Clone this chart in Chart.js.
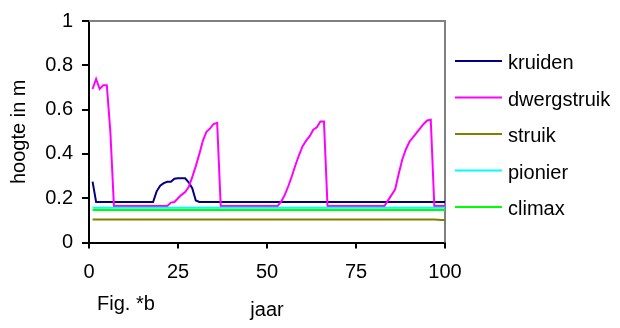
<!DOCTYPE html>
<html>
<head>
<meta charset="utf-8">
<script src="https://cdn.jsdelivr.net/npm/chart.js@4.4.0/dist/chart.umd.min.js"></script>
<style>
  html, body { margin: 0; padding: 0; background: #ffffff; }
  #wrap { width: 620px; height: 328px; position: relative; }
</style>
</head>
<body>
<div id="wrap"><canvas id="c" width="620" height="328"></canvas></div>
<script>
// ---- data ----
const years = [
  1,2,3,4,5,6,7,8,9,10,11,12,13,14,15,16,17,18,19,20,
  21,22,23,24,25,26,27,28,29,30,31,32,33,34,35,36,37,38,39,40,
  41,42,43,44,45,46,47,48,49,50,51,52,53,54,55,56,57,58,59,60,
  61,62,63,64,65,66,67,68,69,70,71,72,73,74,75,76,77,78,79,80,
  81,82,83,84,85,86,87,88,89,90,91,92,93,94,95,96,97,98,99,100
];
const seriesNames = ["kruiden", "dwergstruik", "struik", "pionier", "climax"];
const kruiden = [
  0.275,0.183,0.183,0.183,0.183,0.183,0.183,0.183,0.183,0.183,
  0.183,0.183,0.183,0.183,0.183,0.183,0.183,0.183,0.231,0.256,
  0.268,0.274,0.274,0.288,0.290,0.290,0.290,0.272,0.245,0.190,
  0.183,0.183,0.183,0.183,0.183,0.183,0.183,0.183,0.183,0.183,
  0.183,0.183,0.183,0.183,0.183,0.183,0.183,0.183,0.183,0.183,
  0.183,0.183,0.183,0.183,0.183,0.183,0.183,0.183,0.183,0.183,
  0.183,0.183,0.183,0.183,0.183,0.183,0.183,0.183,0.183,0.183,
  0.183,0.183,0.183,0.183,0.183,0.183,0.183,0.183,0.183,0.183,
  0.183,0.183,0.183,0.183,0.183,0.183,0.183,0.183,0.183,0.183,
  0.183,0.183,0.183,0.183,0.183,0.183,0.183,0.183,0.183,0.183
];
const dwergstruik = [
  0.693,0.738,0.693,0.710,0.710,0.500,0.165,0.165,0.165,0.165,
  0.165,0.165,0.165,0.165,0.165,0.165,0.165,0.165,0.165,0.165,
  0.165,0.165,0.180,0.183,0.200,0.215,0.228,0.250,0.295,0.345,
  0.400,0.460,0.500,0.515,0.535,0.540,0.165,0.165,0.165,0.165,
  0.165,0.165,0.165,0.165,0.165,0.165,0.165,0.165,0.165,0.165,
  0.165,0.165,0.165,0.185,0.215,0.255,0.300,0.350,0.395,0.435,
  0.460,0.480,0.509,0.520,0.546,0.546,0.165,0.165,0.165,0.165,
  0.165,0.165,0.165,0.165,0.165,0.165,0.165,0.165,0.165,0.165,
  0.165,0.165,0.165,0.190,0.215,0.240,0.310,0.375,0.420,0.455,
  0.475,0.495,0.515,0.535,0.551,0.554,0.165,0.165,0.165,0.165
];
const struik = [
  0.104,0.104,0.104,0.104,0.104,0.104,0.104,0.104,0.104,0.104,
  0.104,0.104,0.104,0.104,0.104,0.104,0.104,0.104,0.104,0.104,
  0.104,0.104,0.104,0.104,0.104,0.104,0.104,0.104,0.104,0.104,
  0.104,0.104,0.104,0.104,0.104,0.104,0.104,0.104,0.104,0.104,
  0.104,0.104,0.104,0.104,0.104,0.104,0.104,0.104,0.104,0.104,
  0.104,0.104,0.104,0.104,0.104,0.104,0.104,0.104,0.104,0.104,
  0.104,0.104,0.104,0.104,0.104,0.104,0.104,0.104,0.104,0.104,
  0.104,0.104,0.104,0.104,0.104,0.104,0.104,0.104,0.104,0.104,
  0.104,0.104,0.104,0.104,0.104,0.104,0.104,0.104,0.104,0.104,
  0.104,0.104,0.104,0.104,0.104,0.104,0.104,0.103,0.102,0.102
];
const pionier = [
  0.157,0.157,0.157,0.157,0.157,0.157,0.157,0.157,0.157,0.157,
  0.157,0.157,0.157,0.157,0.157,0.157,0.157,0.157,0.157,0.157,
  0.157,0.157,0.157,0.157,0.157,0.157,0.157,0.157,0.157,0.157,
  0.157,0.157,0.157,0.157,0.157,0.157,0.157,0.157,0.157,0.157,
  0.157,0.157,0.157,0.157,0.157,0.157,0.157,0.157,0.157,0.157,
  0.157,0.157,0.157,0.157,0.157,0.157,0.157,0.157,0.157,0.157,
  0.157,0.157,0.157,0.157,0.157,0.157,0.157,0.157,0.157,0.157,
  0.157,0.157,0.157,0.157,0.157,0.157,0.157,0.157,0.157,0.157,
  0.157,0.157,0.157,0.157,0.157,0.157,0.157,0.157,0.157,0.157,
  0.157,0.157,0.157,0.157,0.157,0.157,0.157,0.157,0.157,0.157
];
const climax = [
  0.147,0.147,0.147,0.147,0.147,0.147,0.147,0.147,0.147,0.147,
  0.147,0.147,0.147,0.147,0.147,0.147,0.147,0.147,0.147,0.147,
  0.147,0.147,0.147,0.147,0.147,0.147,0.147,0.147,0.147,0.147,
  0.147,0.147,0.147,0.147,0.147,0.147,0.147,0.147,0.147,0.147,
  0.147,0.147,0.147,0.147,0.147,0.147,0.147,0.147,0.147,0.147,
  0.147,0.147,0.147,0.147,0.147,0.147,0.147,0.147,0.147,0.147,
  0.147,0.147,0.147,0.147,0.147,0.147,0.147,0.147,0.147,0.147,
  0.147,0.147,0.147,0.147,0.147,0.147,0.147,0.147,0.147,0.147,
  0.147,0.147,0.147,0.147,0.147,0.147,0.147,0.147,0.147,0.147,
  0.147,0.147,0.147,0.147,0.147,0.147,0.147,0.147,0.147,0.147
];
const xTickValues = [0, 25, 50, 75, 100];
const xTickLabels = ["0", "25", "50", "75", "100"];
const yTickValues = [0, 0.2, 0.4, 0.6, 0.8, 1];
const yTickLabels = ["0", "0.2", "0.4", "0.6", "0.8", "1"];
const xTitle = "jaar";
const yTitle = "hoogte in m";
const figLabel = "Fig. *b";

// ---- styling ----
const colors = ["#000080", "#FF00FF", "#808000", "#00FFFF", "#00FF00"];
const FONT = "'Liberation Sans', Arial, sans-serif";
const FS = 20;
Chart.defaults.font.family = FONT;
Chart.defaults.font.size = FS;
Chart.defaults.color = "#000000";

const allSeries = [kruiden, dwergstruik, struik, pionier, climax];
const datasets = allSeries.map((vals, i) => ({
  label: seriesNames[i],
  data: years.map((x, j) => ({ x: x, y: vals[j] })),
  borderColor: colors[i],
  backgroundColor: colors[i],
  borderWidth: 2,
  pointRadius: 0,
  tension: 0,
  fill: false,
  order: allSeries.length - 1 - i
}));

const framePlugin = {
  id: 'frame',
  beforeDatasetsDraw(chart) {
    const { ctx, chartArea: a } = chart;
    ctx.save();
    ctx.strokeStyle = "#808080";
    ctx.lineWidth = 2;
    ctx.beginPath();
    ctx.moveTo(a.left, a.top);
    ctx.lineTo(a.right, a.top);
    ctx.lineTo(a.right, a.bottom);
    ctx.stroke();
    ctx.restore();
  }
};

const legendPlugin = {
  id: 'customLegend',
  afterDraw(chart) {
    const { ctx } = chart;
    ctx.save();
    ctx.font = FS + "px " + FONT;
    ctx.fillStyle = "#000000";
    ctx.textBaseline = "alphabetic";
    ctx.textAlign = "left";
    chart.data.datasets.forEach((ds, i) => {
      const y = 61 + i * 36.5;
      ctx.strokeStyle = ds.borderColor;
      ctx.lineWidth = 2;
      ctx.beginPath();
      ctx.moveTo(455, y);
      ctx.lineTo(502, y);
      ctx.stroke();
      ctx.fillText(ds.label, 508, y + 8.3);
    });
    ctx.fillText(figLabel, 97, 310);
    ctx.restore();
  }
};

new Chart(document.getElementById('c'), {
  type: 'line',
  data: { datasets: datasets },
  options: {
    responsive: false,
    animation: false,
    devicePixelRatio: 1,
    layout: { padding: { top: 15, right: 175, bottom: 0, left: 0 } },
    plugins: { legend: { display: false }, tooltip: { enabled: false } },
    scales: {
      x: {
        type: 'linear',
        min: 0, max: 100,
        afterBuildTicks(s) { s.ticks = xTickValues.map(v => ({ value: v })); },
        afterFit(s) { s.height = 85.5; },
        ticks: {
          padding: 12,
          maxRotation: 0,
          autoSkip: false,
          callback: (v) => xTickLabels[xTickValues.indexOf(v)]
        },
        grid: { drawOnChartArea: false, drawTicks: true, tickLength: 6, color: "#000000", lineWidth: 2 },
        border: { display: true, color: "#000000", width: 2 },
        title: { display: true, text: xTitle, font: { size: FS }, padding: { top: 0, bottom: 6 } }
      },
      y: {
        type: 'linear',
        min: 0, max: 1,
        afterBuildTicks(s) { s.ticks = yTickValues.map(v => ({ value: v })); },
        afterFit(s) { s.width = 89; },
        ticks: {
          padding: 9,
          autoSkip: false,
          callback: (v) => yTickLabels[yTickValues.indexOf(v)]
        },
        grid: { drawOnChartArea: false, drawTicks: true, tickLength: 7, color: "#000000", lineWidth: 2 },
        border: { display: true, color: "#000000", width: 2 },
        title: { display: true, text: yTitle, font: { size: FS }, padding: { top: 7, bottom: 0 } }
      }
    }
  },
  plugins: [framePlugin, legendPlugin]
});
</script>
</body>
</html>
